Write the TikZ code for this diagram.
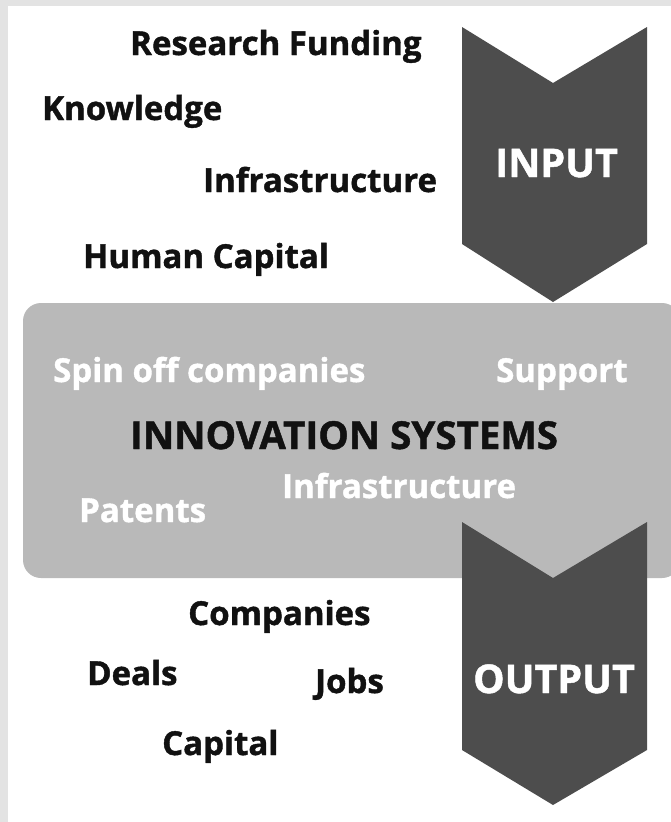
\documentclass[tikz,border=0pt]{standalone}
\usepackage{fontspec}
\setmainfont{Open Sans}[BoldFont={Open Sans Bold}, BoldFeatures={FakeBold=1.2}]
\definecolor{frame}{HTML}{E3E3E3}
\definecolor{arrowgray}{HTML}{4D4D4D}
\definecolor{boxgray}{HTML}{B9B9B9}
\definecolor{ink}{HTML}{111111}
\tikzset{
  lbl/.style={anchor=base west, inner sep=0pt, font=\bfseries\fontsize{33}{33}\selectfont, text=ink},
  wlbl/.style={lbl, text=white},
  biglbl/.style={lbl, font=\bfseries\fontsize{38.5}{38.5}\selectfont},
  arrowtext/.style={anchor=base west, inner sep=0pt, font=\bfseries\fontsize{39.5}{39.5}\selectfont, text=white},
  chevron/.style={fill=arrowgray, draw=none},
  panel/.style={fill=boxgray, draw=none, rounded corners=18pt}
}
\begin{document}
\begin{tikzpicture}[x=1pt, y=-1pt]
\useasboundingbox (0,0) rectangle (671,822);
\fill[frame] (0,0) rectangle (671,822);
\fill[white] (8,6) rectangle (671,822);
% panel
\fill[panel] (23,303) rectangle (680,578);
\fill[white] (671,290) rectangle (690,600);
% input chevron
\fill[chevron] (462,27) -- (553,83) -- (647,27) -- (647,244) -- (553,302) -- (462,244) -- cycle;
% output chevron
\fill[chevron] (462,522) -- (553,578) -- (647,522) -- (647,750) -- (553,805) -- (462,750) -- cycle;
\node[arrowtext] (input) at (495,177) {INPUT};
\node[arrowtext] (output) at (473,693) {OUTPUT};
% inputs
\node[lbl] (rf) at (130,55) {Research Funding};
\node[lbl] (kn) at (42,120) {Knowledge};
\node[lbl] (inf1) at (203,192) {Infrastructure};
\node[lbl] (hc) at (83,268) {Human Capital};
% panel texts
\node[wlbl] (spin) at (53,382) {Spin off companies};
\node[wlbl] (sup) at (496,382) {Support};
\node[biglbl] (inno) at (130,449) {INNOVATION SYSTEMS};
\node[wlbl] (inf2) at (282,498) {Infrastructure};
\node[wlbl] (pat) at (79,522) {Patents};
% outputs
\node[lbl] (comp) at (188,625) {Companies};
\node[lbl] (deals) at (87,685) {Deals};
\node[lbl] (jobs) at (315,693) {Jobs};
\node[lbl] (cap) at (162,755) {Capital};
\end{tikzpicture}
\end{document}
